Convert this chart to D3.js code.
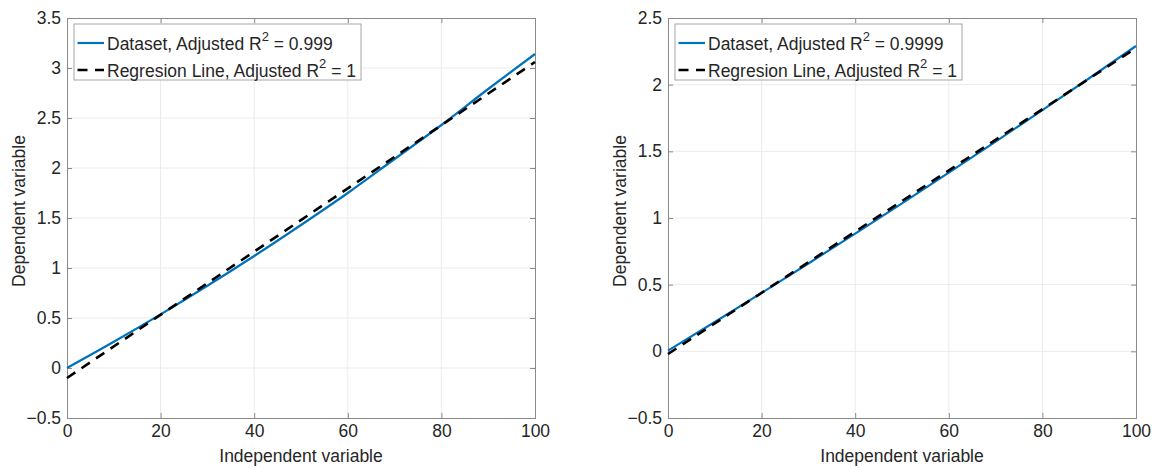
<!DOCTYPE html>
<html>
<head>
<meta charset="utf-8">
<script src="https://cdn.jsdelivr.net/npm/d3@7"></script>
<style>
  body { margin: 0; background: #fff; }
  text { font-family: "Liberation Sans", Arial, sans-serif; fill: #262626; }
</style>
</head>
<body>
<script>
const w = 1155;
const h = 468;

// values
const xValues = [0, 10, 20, 30, 40, 50, 60, 70, 80, 90, 100];
const leftDataset = [0, 0.262, 0.536, 0.822, 1.12, 1.43, 1.75, 2.09, 2.43, 2.79, 3.14];
const leftRegX = [0, 100];
const leftRegY = [-0.1, 3.06];
const rightDataset = [0.005, 0.22, 0.438, 0.659, 0.883, 1.11, 1.34, 1.573, 1.809, 2.048, 2.29];
const rightRegX = [0, 100];
const rightRegY = [-0.02, 2.275];

const xTicks = [0, 20, 40, 60, 80, 100];
const leftYTicks = [-0.5, 0, 0.5, 1, 1.5, 2, 2.5, 3, 3.5];
const rightYTicks = [-0.5, 0, 0.5, 1, 1.5, 2, 2.5];
const leftR2 = "0.999";
const rightR2 = "0.9999";

let svg = d3.select("body")
            .append("svg")
            .attr("width", w)
            .attr("height", h);

const fs = 17.5;

function panel(left, yTicks, dataset, regX, regY, r2) {
  const top = 18, bottom = 418, pw = 468;
  let x = d3.scaleLinear().domain([0, 100]).range([left, left + pw]);
  let y = d3.scaleLinear().domain(d3.extent(yTicks)).range([bottom, top]);
  let g = svg.append("g");

  // grid
  g.selectAll(".gx").data(xTicks.slice(1, -1)).enter().append("line")
    .attr("x1", d => x(d)).attr("x2", d => x(d))
    .attr("y1", top).attr("y2", bottom)
    .attr("stroke", "#ebebeb").attr("stroke-width", 1);
  g.selectAll(".gy").data(yTicks.slice(1, -1)).enter().append("line")
    .attr("y1", d => y(d)).attr("y2", d => y(d))
    .attr("x1", left).attr("x2", left + pw)
    .attr("stroke", "#ebebeb").attr("stroke-width", 1);

  // axes, ticks pointing in
  const fmt = d => d3.format("")(d);
  let ax = g.append("g").attr("transform", `translate(0,${bottom})`)
    .call(d3.axisBottom(x).tickValues(xTicks).tickSize(-5).tickPadding(7).tickFormat(fmt));
  let axT = g.append("g").attr("transform", `translate(0,${top})`)
    .call(d3.axisTop(x).tickValues(xTicks).tickSize(-5).tickFormat(""));
  let ay = g.append("g").attr("transform", `translate(${left},0)`)
    .call(d3.axisLeft(y).tickValues(yTicks).tickSize(-5).tickPadding(6).tickFormat(fmt));
  let ayR = g.append("g").attr("transform", `translate(${left + pw},0)`)
    .call(d3.axisRight(y).tickValues(yTicks).tickSize(-5).tickFormat(""));
  [ax, axT, ay, ayR].forEach(a => {
    a.selectAll("path, line").attr("stroke", "#8a8a8a");
    a.select(".domain").attr("stroke-width", 1);
    a.selectAll("text").attr("font-size", fs).attr("fill", "#262626")
      .attr("font-family", "Liberation Sans, Arial, sans-serif");
  });

  // curves
  let line = d3.line().x(d => x(d[0])).y(d => y(d[1]));
  g.append("path")
    .datum(xValues.map((v, i) => [v, dataset[i]]))
    .attr("d", d3.line().curve(d3.curveMonotoneX).x(d => x(d[0])).y(d => y(d[1])))
    .attr("fill", "none").attr("stroke", "#0072BD").attr("stroke-width", 2.2);
  g.append("path")
    .datum(regX.map((v, i) => [v, regY[i]]))
    .attr("d", line)
    .attr("fill", "none").attr("stroke", "#000").attr("stroke-width", 2.6)
    .attr("stroke-dasharray", "10,7.5");

  // labels
  g.append("text").attr("x", left + pw / 2).attr("y", 462)
    .attr("text-anchor", "middle").attr("font-size", fs).text("Independent variable");
  g.append("text")
    .attr("transform", `translate(${left - 42},211) rotate(-90)`)
    .attr("text-anchor", "middle").attr("font-size", fs).text("Dependent variable");

  // legend
  let lg = g.append("g").attr("transform", `translate(${left + 7},24)`);
  let box = lg.append("rect").attr("x", 0).attr("y", 0).attr("height", 56)
    .attr("fill", "#fff").attr("stroke", "#a6a6a6").attr("stroke-width", 1);
  const rows = [
    { label: "Dataset, Adjusted R", val: " = " + r2, color: "#0072BD", dash: null, sw: 2.2 },
    { label: "Regresion Line, Adjusted R", val: " = 1", color: "#000", dash: "10,7.5", sw: 2.6 }
  ];
  let maxW = 0;
  rows.forEach((r, i) => {
    const cy = 19 + i * 27;
    lg.append("line").attr("x1", 3.5).attr("x2", 30).attr("y1", cy).attr("y2", cy)
      .attr("stroke", r.color).attr("stroke-width", r.sw)
      .attr("stroke-dasharray", r.dash);
    let t = lg.append("text").attr("x", 33).attr("y", cy + 6.5).attr("font-size", fs);
    t.append("tspan").text(r.label);
    t.append("tspan").attr("dy", -9).attr("font-size", 13).text("2");
    t.append("tspan").attr("dy", 9).text(r.val);
    maxW = Math.max(maxW, t.node().getComputedTextLength());
  });
  box.attr("width", 33 + maxW + 5);
}

panel(67, leftYTicks, leftDataset, leftRegX, leftRegY, leftR2);
panel(668, rightYTicks, rightDataset, rightRegX, rightRegY, rightR2);
</script>
</body>
</html>
